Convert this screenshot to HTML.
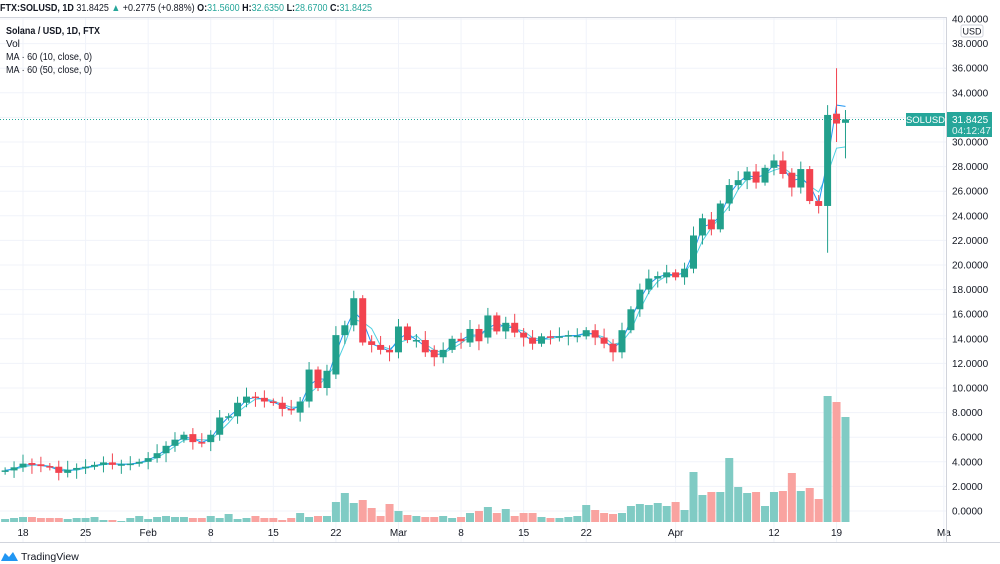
<!DOCTYPE html>
<html><head><meta charset="utf-8"><style>
body{margin:0;background:#fff;width:1000px;height:564px;overflow:hidden;font-family:"Liberation Sans",sans-serif}
svg{position:absolute;left:0;top:0}
</style></head><body>
<svg id="s" width="1000" height="564" xmlns="http://www.w3.org/2000/svg" font-family="Liberation Sans, sans-serif"></svg>
<script>
const C=[
[3.2,3.3],[3.3,3.55],[3.55,3.85],[3.9,3.75],[3.8,3.65],[3.65,3.55],[3.6,3.1],[3.1,3.35],[3.35,3.5],[3.5,3.6],[3.6,3.75],[3.75,3.95],[3.95,3.75],[3.75,3.8],[3.8,3.85],[3.85,4.0],
[4.0,4.3],[4.3,4.7],[4.7,5.3],[5.3,5.8],[5.8,6.2],[6.25,5.6],[5.6,5.55],[5.6,6.2],[6.2,7.6],[7.6,7.7],[7.7,8.8],[8.8,9.3],[9.3,9.2],[9.2,8.9],[8.9,8.8],[8.8,8.3],[8.3,8.2],[8.0,8.9],[8.9,11.5],[11.5,10.0],[10.0,11.4],[11.1,14.3],[14.3,15.1],[15.1,17.3],[17.3,13.7],[13.8,13.5],[13.5,13.1],[13.1,12.9],
[12.9,15.0],[15.0,13.9],[13.9,13.9],[13.9,12.9],[13.1,12.5],[12.5,13.1],[13.1,14.0],[14.0,13.8],[13.7,14.8],[14.8,13.8],[14.1,15.9],[15.9,14.6],[14.6,15.3],[15.3,14.5],[14.5,14.1],[14.1,13.6],[13.6,14.2],[14.2,14.15],[14.15,14.2],[14.2,14.3],[14.2,14.25],[14.2,14.7],[14.7,14.1],[14.1,13.6],[13.6,12.9],[12.9,14.7],[14.7,16.4],[16.4,18.0],[18.0,18.9],[18.9,19.1],[19.0,19.4],
[19.4,19.0],[19.0,19.7],[19.7,22.4],[22.4,23.8],[23.7,22.9],[22.9,25.0],[25.0,26.5],[26.5,26.9],[26.9,27.6],[27.6,26.7],[26.7,27.9],[27.9,28.5],[28.5,27.4],[27.5,26.3],[26.3,27.8],[27.8,25.2],[25.2,24.8],[24.8,32.2],[32.3,31.5],[31.56,31.84]
];
const V=[3,4,5,5,4,4,4,3,4,4,5,2,2,1,4,6, 3,5,6,5,5,4,4,6,4,8,3,4,6,4,4,2,4,9,5,6,6,20,29,19,22,14,6,18,11,
7,6,5,5,6,4,5,9,11,15,9,13,6,9,9,5,4,4,5,6,17,12,9,8,9,16,18,17,19,16,
20,12,50,27,30,30,64,35,29,30,16,30,31,49,31,34,23,126,120,105];
const s=document.getElementById('s');let h='';
const X=d=>23+d*8.94, Y=v=>511-12.3*v;
for(let v=0;v<=40;v+=2){let y=Y(v);h+=`<line x1="0" x2="946" y1="${y}" y2="${y}" stroke="#f0f3fa"/>`;
 h+=`<text x="952" y="${y+3.5}" font-size="10" fill="#131722">${v.toFixed(4)}</text>`;}
const T=[[0,'18'],[7,'25'],[14,'Feb'],[21,'8'],[28,'15'],[35,'22'],[42,'Mar'],[49,'8'],[56,'15'],[63,'22'],[73,'Apr'],[84,'12'],[91,'19'],[103,'Ma']];
T.forEach(([d,t])=>{let x=X(d);h+=`<line x1="${x}" x2="${x}" y1="17" y2="542" stroke="#f0f3fa"/>`;h+=`<text x="${x}" y="536" font-size="10" text-anchor="middle" fill="#131722">${t}</text>`;});
const n=C.length;
for(let i=0;i<n;i++){let d=i-2,x=X(d),vh=V[i]||4,up=C[i][1]>=C[i][0];
 h+=`<rect x="${x-4}" y="${522-vh}" width="8" height="${vh}" fill="${up?'#80cbc4':'#f9a3a0'}"/>`;}
let p1='',p2='';
for(let i=0;i<n;i++){let c=C[i][1],a=(c+C[Math.max(0,i-1)][1])/2,b=(c+C[Math.max(0,i-1)][1]+C[Math.max(0,i-2)][1])/3;
 if(i==n-1){a=32.9;b=29.6} if(i==n-2){a=33.0;b=29.5}
 p1+=(i?'L':'M')+X(i-2)+','+Y(a);p2+=(i?'L':'M')+X(i-2)+','+Y(b);}
h+=`<path d="${p2}" fill="none" stroke="#4dd0e1" stroke-width="1"/><path d="${p1}" fill="none" stroke="#2196f3" stroke-width="1"/>`;
for(let i=0;i<n;i++){let [o,c]=C[i],d=i-2,x=X(d),up=c>=o,col=up?'#22a08c':'#f2434f';
 let hi=Math.max(o,c)+0.25+((i*7)%5)*0.12,lo=Math.min(o,c)-0.25-((i*3)%5)*0.12;
 if(i==n-3){hi=33;lo=21}if(i==n-2){hi=36;lo=30}if(i==n-1){hi=32.6;lo=28.67}
 h+=`<line x1="${x}" x2="${x}" y1="${Y(hi)}" y2="${Y(lo)}" stroke="${col}"/>`;
 let t=Y(Math.max(o,c)),bh=Math.max(1.5,Y(Math.min(o,c))-t);
 h+=`<rect x="${x-3.5}" y="${t}" width="7" height="${bh}" fill="${col}"/>`;}
h+=`<line x1="0" x2="946" y1="17.5" y2="17.5" stroke="#d1d4dc"/><line x1="946.5" x2="946.5" y1="17" y2="542" stroke="#d1d4dc"/><line x1="0" x2="1000" y1="542.5" y2="542.5" stroke="#d1d4dc"/>`;
h+=`<line x1="0" x2="906" y1="119.5" y2="119.5" stroke="#26a69a" stroke-dasharray="1,2"/>`;
h+=`<rect x="906" y="113" width="39" height="13" fill="#26a69a"/><text x="925.5" y="123" font-size="9.5" fill="#fff" text-anchor="middle">SOLUSD</text>`;
h+=`<rect x="947" y="112" width="45" height="25" fill="#26a69a"/><text x="952" y="123" font-size="10" fill="#fff">31.8425</text><text x="952" y="134" font-size="10" fill="#e0f2f1">04:12:47</text>`;
h+=`<rect x="961" y="25" width="22" height="12" rx="2" fill="#fff" stroke="#d1d4dc"/><text x="972" y="34.5" font-size="9" text-anchor="middle" fill="#131722">USD</text>`;
h+=`<text x="0" y="11" font-size="10" fill="#131722" textLength="372" lengthAdjust="spacingAndGlyphs"><tspan font-weight="bold">FTX:SOLUSD, 1D</tspan> 31.8425 <tspan fill="#26a69a">▲</tspan> +0.2775 (+0.88%) <tspan font-weight="bold">O:</tspan><tspan fill="#26a69a">31.5600</tspan> <tspan font-weight="bold">H:</tspan><tspan fill="#26a69a">32.6350</tspan> <tspan font-weight="bold">L:</tspan><tspan fill="#26a69a">28.6700</tspan> <tspan font-weight="bold">C:</tspan><tspan fill="#26a69a">31.8425</tspan></text>`;
h+=`<text x="6" y="34" font-size="10" font-weight="bold" fill="#131722" textLength="94" lengthAdjust="spacingAndGlyphs">Solana / USD, 1D, FTX</text><text x="6" y="47" font-size="10" fill="#131722">Vol</text><text x="6" y="60" font-size="10" fill="#131722" textLength="86" lengthAdjust="spacingAndGlyphs">MA · 60 (10, close, 0)</text><text x="6" y="73" font-size="10" fill="#131722" textLength="86" lengthAdjust="spacingAndGlyphs">MA · 60 (50, close, 0)</text>`;
h+=`<path d="M1,561 L5,553 L9,557 L13,552 L18,561 Z" fill="#2196f3"/><text x="21" y="560" font-size="10.5" fill="#131722">TradingView</text>`;
s.innerHTML=h;
</script>
</body></html>
